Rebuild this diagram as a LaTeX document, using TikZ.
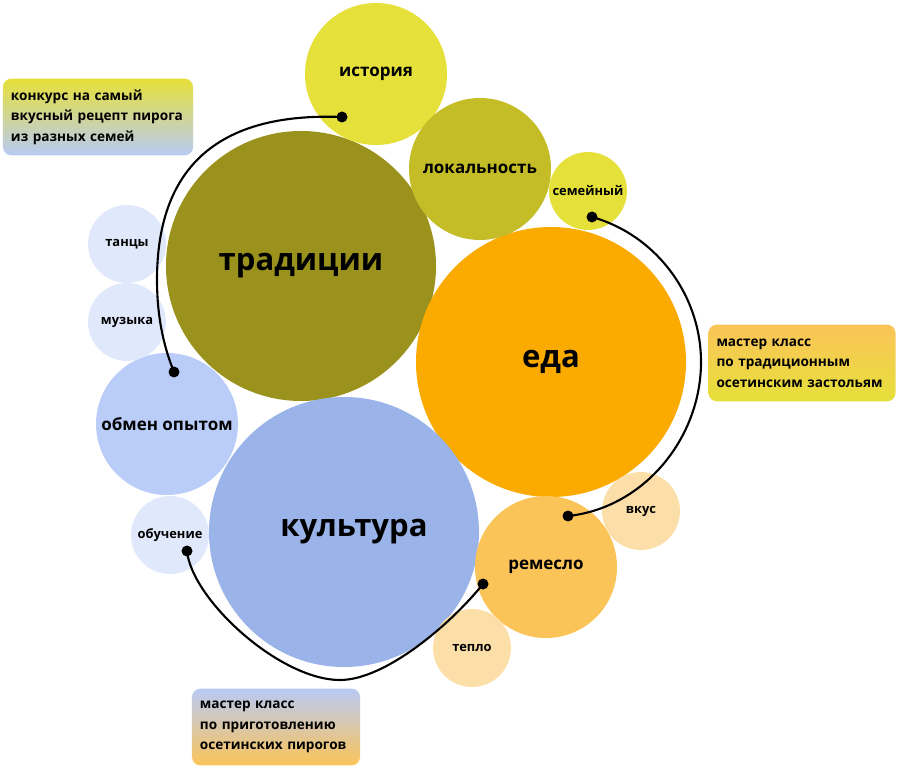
\documentclass[tikz,border=0pt]{standalone}
\usepackage{fontspec}
\setmainfont{Open Sans}

\definecolor{istYellow}{HTML}{E6E03A}
\definecolor{lokOlive}{HTML}{C4BD28}
\definecolor{tradOlive}{HTML}{9A921C}
\definecolor{edaOrange}{HTML}{FBAA00}
\definecolor{remOrange}{HTML}{FBC459}
\definecolor{paleOrange}{HTML}{FCDFA8}
\definecolor{kultBlue}{HTML}{9AB3E8}
\definecolor{obmBlue}{HTML}{BACCF8}
\definecolor{paleBlue}{HTML}{E0E8FB}
\definecolor{noteBlue}{HTML}{B8CAF4}

\begin{document}
\begin{tikzpicture}[x=0.03cm, y=-0.03cm,
  bubble/.style={circle, inner sep=0pt, align=center, text=black},
  big/.style={bubble, minimum size=8.1cm, font=\fontsize{26.5}{30}\selectfont\bfseries},
  mid/.style={bubble, minimum size=4.26cm, font=\fontsize{14.5}{17}\selectfont\bfseries},
  small/.style={bubble, minimum size=2.34cm, font=\fontsize{11}{13}\selectfont\bfseries},
  note/.style={rounded corners=0.25cm, minimum height=2.3cm, inner xsep=0.24cm,
    align=left, font=\fontsize{11.6}{17.5}\selectfont\bfseries},
  dot/.style={circle, fill=black, inner sep=0pt, minimum size=0.33cm},
  link/.style={line width=1.8pt}]
  \useasboundingbox (0,0) rectangle (900,769);

  % big circles
  \node[big, fill=tradOlive] (trad) at (301,266) {традиции};
  \node[big, fill=edaOrange] (eda) at (551,362) {еда};
  \node[big, fill=kultBlue] (kult) at (344,532) {\hspace*{0.6cm}культура};

  % middle circles
  \node[mid, fill=istYellow] (ist) at (376,74) {история};
  \node[mid, fill=lokOlive] (lok) at (480,169) {локальность};
  \node[mid, fill=obmBlue] (obm) at (167,424) {обмен опытом};
  \node[mid, fill=remOrange] (rem) at (546,567) {ремесло};

  % small circles
  \node[small, fill=istYellow] (sem) at (588,191) {семейный};
  \node[small, fill=paleBlue] (tan) at (127,244) {танцы};
  \node[small, fill=paleBlue] (muz) at (127,322) {музыка};
  \node[small, fill=paleBlue] (obu) at (170,535) {обучение};
  \node[small, fill=paleOrange] (vkus) at (641,511) {вкус};
  \node[small, fill=paleOrange] (tep) at (472,648) {тепло};

  % notes
  \node[note, text width=5.22cm, top color=istYellow, bottom color=noteBlue] (konk) at (98,117)
    {конкурс на самый\\вкусный рецепт пирога\\из разных семей};
  \node[note, text width=5.13cm, top color=remOrange, bottom color=istYellow] (zast) at (802,363)
    {мастер класс\\по традиционным\\осетинским застольям};
  \node[note, text width=4.56cm, top color=noteBlue, bottom color=remOrange] (pir) at (276,727)
    {мастер класс\\по приготовлению\\осетинских пирогов};

  % arcs
  \node[dot] (d1) at (342,117) {};
  \node[dot] (d2) at (174,372) {};
  \node[dot] (d3) at (592,217) {};
  \node[dot] (d4) at (568,516) {};
  \node[dot] (d5) at (187,551) {};
  \node[dot] (d6) at (483,584) {};
  \draw[link] (d1.center) .. controls (215,112) and (157,170) .. (157,280)
    .. controls (157,320) and (165,350) .. (d2.center);
  \draw[link] (d3.center) .. controls (656,235) and (701,295) .. (701,362)
    .. controls (701,438) and (644,508) .. (d4.center);
  \draw[link] (d5.center) .. controls (192,600) and (280,680) .. (340,680)
    .. controls (385,680) and (450,625) .. (d6.center);
\end{tikzpicture}
\end{document}
